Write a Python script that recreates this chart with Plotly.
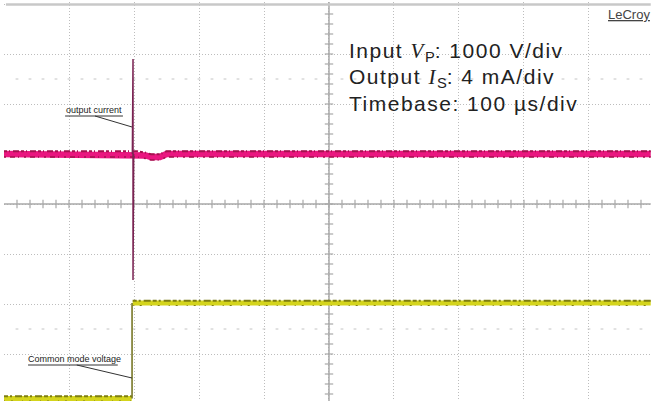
import plotly.graph_objects as go

# ---- data (time in µs, amplitude in divisions) ----
cur_t = [0, 196, 205, 218, 226, 240, 250, 995]
cur_v = [1.0, 1.0, 1.0, 0.97, 0.94, 0.94, 1.0, 1.0]
spike_t = [197.5, 198.5, 198.5, 199.5]
spike_v = [1.0, 2.9, -1.52, 1.0]
cm_pre_t = [0, 196.5]
cm_pre_v = [-3.89, -3.89]
cm_step_t = [197, 197]
cm_step_v = [-3.89, -1.98]
cm_post_t = [198, 995]
cm_post_v = [-1.98, -1.98]

x_grid = [100, 200, 300, 400, 500, 600, 700, 800, 900]
y_grid = [-3, -2, -1, 0, 1, 2, 3, 4]
x_minor = [t for t in range(20, 1000, 20)]
y_minor = [v / 5 for v in range(-19, 20)]

fig = go.Figure()

def add_line(x, y, color, width, dash=None):
    fig.add_trace(go.Scatter(x=x, y=y, mode="lines",
                             line=dict(color=color, width=width, dash=dash),
                             hoverinfo="skip", showlegend=False))

GRAY = "#A8A8A8"
# dotted rows at +-2.5 div
for yy in (2.5, -2.5):
    fig.add_trace(go.Scatter(x=x_minor, y=[yy] * len(x_minor), mode="markers",
                             marker=dict(symbol="line-ew", size=2, line=dict(width=1, color="#C4C4C4")),
                             hoverinfo="skip", showlegend=False))
# center cross
add_line([0, 995], [0, 0], GRAY, 1.5)
add_line([500, 500], [-4, 4.1], GRAY, 1.5)
fig.add_trace(go.Scatter(x=x_minor, y=[0] * len(x_minor), mode="markers",
                         marker=dict(symbol="line-ns", size=6, line=dict(width=1.2, color=GRAY)),
                         hoverinfo="skip", showlegend=False))
fig.add_trace(go.Scatter(x=[500] * len(y_minor), y=y_minor, mode="markers",
                         marker=dict(symbol="line-ew", size=6, line=dict(width=1.2, color=GRAY)),
                         hoverinfo="skip", showlegend=False))
# top border
add_line([3, 995], [3.99, 3.99], "#C8C8C8", 2.5)

# output current (magenta)
add_line(cur_t, cur_v, "#EA1680", 6.5)
add_line(cur_t, [v + 0.055 for v in cur_v], "#A3124E", 2, "3px,2px,1px,3px,6px,2px")
add_line(cur_t, [v - 0.06 for v in cur_v], "#A3124E", 1.5, "2px,4px,5px,3px,1px,5px")
add_line(spike_t, spike_v, "#7A2352", 1.5)

# common mode voltage (yellow)
for tt, vv in ((cm_pre_t, cm_pre_v), (cm_post_t, cm_post_v)):
    add_line(tt, vv, "#D4D41C", 5)
    add_line(tt, [v + 0.045 for v in vv], "#7E7E12", 2, "4px,2px,2px,3px,7px,2px")
    add_line(tt, [v - 0.05 for v in vv], "#7E7E12", 1.2, "1px,6px,2px,9px")
add_line(cm_step_t, cm_step_v, "#6E6E18", 1.5)

# label underlines and leader lines
add_line([94, 183], [1.76, 1.76], "#333333", 1)
add_line([140, 197], [1.76, 1.54], "#333333", 1)
add_line([37, 175], [-3.22, -3.22], "#333333", 1)
add_line([112, 197], [-3.22, -3.48], "#333333", 1)

TXT = "Liberation Sans"
big = dict(family=TXT, size=21, color="#222222")
sp = '<span style="letter-spacing:%spx">%s</span>'
ital = '<span style="font-family:Liberation Serif;letter-spacing:1.5px"><i>%s</i></span>'
lines = [
    sp % (1.5, "Input ") + ital % "V" + "<sub>P</sub>" + sp % (1.5, ": 1000 V/div"),
    sp % (1.5, "Output ") + ital % "I" + "<sub>S</sub>" + sp % (1.5, ": 4 mA/div"),
    sp % (1.5, "Timebase: 100 µs/div"),
]
anns = []
for k, s in enumerate(lines):
    anns.append(dict(x=528, y=3.05 - k * 0.52, xref="x", yref="y", text=s, showarrow=False,
                     xanchor="left", yanchor="middle", font=big))
anns.append(dict(x=0.9335, y=1, xref="paper", yref="paper",
                 text='<span style="text-decoration:underline">LeCroy</span>', showarrow=False,
                 xanchor="left", yanchor="top", yshift=-3, xshift=-2,
                 font=dict(family=TXT, size=13, color="#444444")))
anns.append(dict(x=95, y=1.76, xref="x", yref="y", text="output current", showarrow=False,
                 xanchor="left", yanchor="bottom", xshift=-2, yshift=-1,
                 font=dict(family=TXT, size=9, color="#222222")))
anns.append(dict(x=37, y=-3.22, xref="x", yref="y", text="Common mode voltage", showarrow=False,
                 xanchor="left", yanchor="bottom", xshift=-2, yshift=-1,
                 font=dict(family=TXT, size=9, color="#222222")))

fig.update_layout(
    width=651, height=401,
    margin=dict(l=4, r=0, t=2, b=0),
    paper_bgcolor="white", plot_bgcolor="white",
    annotations=anns,
    xaxis=dict(range=[0, 995.4], tickvals=x_grid, showticklabels=False, showgrid=True,
               gridcolor="#BDBDBD", griddash="1px,2px", gridwidth=1, zeroline=False, showline=False,
               fixedrange=True),
    yaxis=dict(range=[-3.94, 4.04], tickvals=y_grid, showticklabels=False, showgrid=True,
               gridcolor="#BDBDBD", griddash="1px,2px", gridwidth=1, zeroline=False, showline=False,
               fixedrange=True),
)

fig.write_html("out.html")
